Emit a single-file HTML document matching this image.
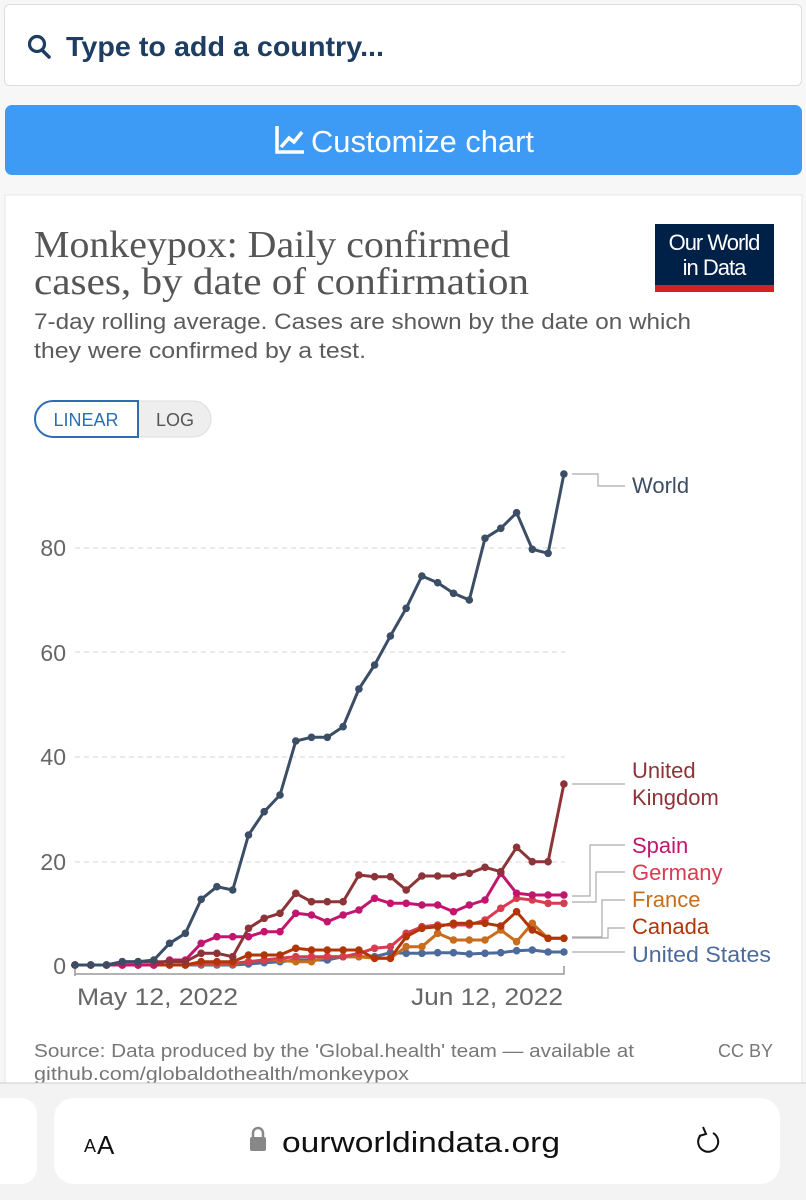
<!DOCTYPE html>
<html><head><meta charset="utf-8"><style>
html,body{margin:0;padding:0;background:#f7f7f7;}
body{width:806px;height:1200px;position:relative;overflow:hidden;font-family:"Liberation Sans",sans-serif;}
</style></head><body>
<svg width="806" height="1200" viewBox="0 0 806 1200" xmlns="http://www.w3.org/2000/svg" style="position:absolute;left:0;top:0">
<rect x="0" y="0" width="806" height="1200" fill="#f7f7f7"/>
<rect x="4.5" y="4.5" width="797" height="81" rx="5" fill="#fff" stroke="#ddd"/>
<circle cx="37" cy="44" r="7.5" fill="none" stroke="#1d3d63" stroke-width="3.2"/>
<line x1="42" y1="50" x2="49" y2="57" stroke="#1d3d63" stroke-width="3.5" stroke-linecap="round"/>
<text x="66" y="56" font-size="28" font-weight="bold" fill="#1d3d63" textLength="318" lengthAdjust="spacingAndGlyphs">Type to add a country...</text>
<rect x="5" y="105" width="797" height="70" rx="7" fill="#3d9af5"/>
<path d="M277 126 V152 H304" fill="none" stroke="#fff" stroke-width="3.5"/>
<path d="M281 147 L289 138 L294 142 L302 132" fill="none" stroke="#fff" stroke-width="3.5"/>
<text x="311" y="152" font-size="31" fill="#fff" textLength="223" lengthAdjust="spacingAndGlyphs">Customize chart</text>
<rect x="5" y="195" width="797" height="890" fill="#fff" stroke="#e5e5e5"/>
<text font-family="Liberation Serif,serif" font-size="38" fill="#555"><tspan x="34" y="257" textLength="476" lengthAdjust="spacingAndGlyphs">Monkeypox: Daily confirmed</tspan></text>
<text font-family="Liberation Serif,serif" font-size="38" fill="#555"><tspan x="34" y="294" textLength="495" lengthAdjust="spacingAndGlyphs">cases, by date of confirmation</tspan></text>
<rect x="655" y="224" width="119" height="62" fill="#002147"/>
<rect x="655" y="285" width="119" height="7" fill="#ce261e"/>
<text x="714" y="250" font-size="22" fill="#fff" text-anchor="middle" letter-spacing="-1">Our World</text>
<text x="714" y="275" font-size="22" fill="#fff" text-anchor="middle" letter-spacing="-1">in Data</text>
<text x="34" y="329" font-size="22" fill="#5b5b5b" textLength="657" lengthAdjust="spacingAndGlyphs">7-day rolling average. Cases are shown by the date on which</text>
<text x="34" y="358" font-size="22" fill="#5b5b5b" textLength="332" lengthAdjust="spacingAndGlyphs">they were confirmed by a test.</text>
<rect x="35" y="401" width="176" height="36" rx="18" fill="#eee" stroke="#ddd"/>
<path d="M138 401 H53 A18 18 0 0 0 53 437 H138 Z" fill="#fff" stroke="#2a6fb5" stroke-width="2"/>
<text x="86" y="426" font-size="18" fill="#2a6fb5" text-anchor="middle">LINEAR</text>
<text x="175" y="426" font-size="18" fill="#555" text-anchor="middle">LOG</text>
<g stroke="#ddd" stroke-dasharray="5,4" stroke-width="1.3">
<line x1="75" y1="548" x2="565" y2="548"/><line x1="75" y1="652" x2="565" y2="652"/><line x1="75" y1="757" x2="565" y2="757"/><line x1="75" y1="862" x2="565" y2="862"/>
</g>
<g font-size="23" fill="#666" text-anchor="end">
<text x="66" y="556">80</text><text x="66" y="661">60</text><text x="66" y="765">40</text><text x="66" y="870">20</text><text x="66" y="974">0</text>
</g>
<path d="M75 966 V974 M75 976 V974 H564 V966" fill="none" stroke="#999" stroke-width="1.5"/>
<text x="77" y="1005" font-size="24" fill="#666" textLength="161" lengthAdjust="spacingAndGlyphs">May 12, 2022</text>
<text x="411" y="1005" font-size="24" fill="#666" textLength="152" lengthAdjust="spacingAndGlyphs">Jun 12, 2022</text>
<g id="series"></g>
<g fill="none" stroke="#aaa" stroke-width="1.2">
<path d="M572 474 H598 V486 H625"/>
<path d="M572 784 H625"/>
<path d="M572 896 H590 V845 H625"/>
<path d="M572 902 H596 V872 H625"/>
<path d="M572 937 H602 V900 H625"/>
<path d="M572 938 H608 V928 H625"/>
<path d="M572 952 H625"/>
</g>
<g font-size="22">
<text x="632" y="493" fill="#3c4e66">World</text>
<text x="632" y="778" fill="#8c3438">United</text>
<text x="632" y="805" fill="#8c3438">Kingdom</text>
<text x="632" y="853" fill="#c2166e">Spain</text>
<text x="632" y="880" fill="#d73c50">Germany</text>
<text x="632" y="907" fill="#c76d1b">France</text>
<text x="632" y="934" fill="#b13507">Canada</text>
<text x="632" y="962" fill="#4c6a9c" textLength="139" lengthAdjust="spacingAndGlyphs">United States</text>
</g>
<text x="34" y="1057" font-size="18" fill="#777" textLength="600" lengthAdjust="spacingAndGlyphs">Source: Data produced by the 'Global.health' team — available at</text>
<text x="34" y="1080" font-size="18" fill="#777" textLength="375" lengthAdjust="spacingAndGlyphs">github.com/globaldothealth/monkeypox</text>
<text x="773" y="1057" font-size="18" fill="#777" text-anchor="end">CC BY</text>
<rect x="0" y="1083" width="806" height="117" fill="#f3f3f3"/>
<line x1="0" y1="1083" x2="806" y2="1083" stroke="#ccc"/>
<rect x="-20" y="1098" width="57" height="86" rx="16" fill="#fff"/>
<rect x="54" y="1098" width="726" height="86" rx="20" fill="#fff"/>
<text x="84" y="1152" font-size="18" fill="#111">A</text><text x="97" y="1154" font-size="26" fill="#111">A</text>
<rect x="250" y="1137" width="16" height="14" rx="2" fill="#888"/>
<path d="M253 1138 V1133 A5 5 0 0 1 263 1133 V1138" fill="none" stroke="#888" stroke-width="2.5"/>
<text x="282" y="1152" font-size="29" fill="#111" textLength="278" lengthAdjust="spacingAndGlyphs">ourworldindata.org</text>
<path d="M713 1133 A10 10 0 1 1 700 1136" fill="none" stroke="#111" stroke-width="2"/>
<path d="M703 1127 L706 1134 L699 1136" fill="none" stroke="#111" stroke-width="2"/>
</svg>
<script>
(function(){
var Z={
us:[1515,1515,1515,1515,1515,1515,1515,1515,1515,1515,1515,1512,1508,1505,1500,1500,1500,1490,1490,1490,1478,1480,1480,1478,1478,1482,1480,1478,1472,1470,1476,1476],
ca:[1515,1515,1515,1515,1515,1515,1515,1515,1505,1505,1505,1485,1485,1485,1465,1470,1470,1470,1470,1495,1495,1430,1405,1400,1390,1390,1390,1398,1355,1410,1435,1435],
fr:[1515,1515,1515,1515,1515,1515,1515,1515,1512,1512,1512,1505,1500,1500,1505,1505,1490,1490,1490,1495,1495,1460,1460,1420,1440,1440,1440,1410,1445,1390,1435,1435],
de:[1515,1515,1515,1515,1515,1515,1515,1515,1510,1510,1510,1505,1500,1495,1490,1490,1490,1490,1480,1465,1460,1420,1400,1395,1395,1395,1380,1345,1315,1320,1330,1330],
es:[1515,1515,1515,1515,1515,1515,1500,1500,1450,1430,1430,1430,1415,1415,1360,1365,1385,1365,1350,1315,1330,1330,1335,1335,1355,1335,1320,1240,1300,1305,1305,1305],
uk:[1515,1515,1515,1505,1505,1505,1505,1505,1480,1480,1490,1405,1375,1360,1300,1325,1325,1325,1245,1250,1250,1290,1248,1248,1248,1240,1222,1235,1162,1205,1205,972],
w:[1515,1515,1515,1505,1505,1500,1450,1420,1318,1280,1290,1125,1055,1005,843,832,832,800,687,615,528,445,348,368,400,420,235,205,158,268,280,42]};
var C={us:"#4c6a9c",ca:"#b13507",fr:"#c76d1b",de:"#d73c50",es:"#c2166e",uk:"#8c3438",w:"#3c4e66"};
var ord=["us","fr","de","ca","es","uk","w"];var s="";
ord.forEach(function(k){var p=[];Z[k].forEach(function(z,i){var x=75+i*15.77,y=460+z/3;p.push(x.toFixed(1)+","+y.toFixed(1));});
s+='<polyline points="'+p.join(" ")+'" fill="none" stroke="'+C[k]+'" stroke-width="3" stroke-linejoin="round"/>';
p.forEach(function(q){var a=q.split(",");s+='<circle cx="'+a[0]+'" cy="'+a[1]+'" r="3.8" fill="'+C[k]+'"/>';});});
document.getElementById("series").innerHTML=s;})();
</script>
</body></html>
